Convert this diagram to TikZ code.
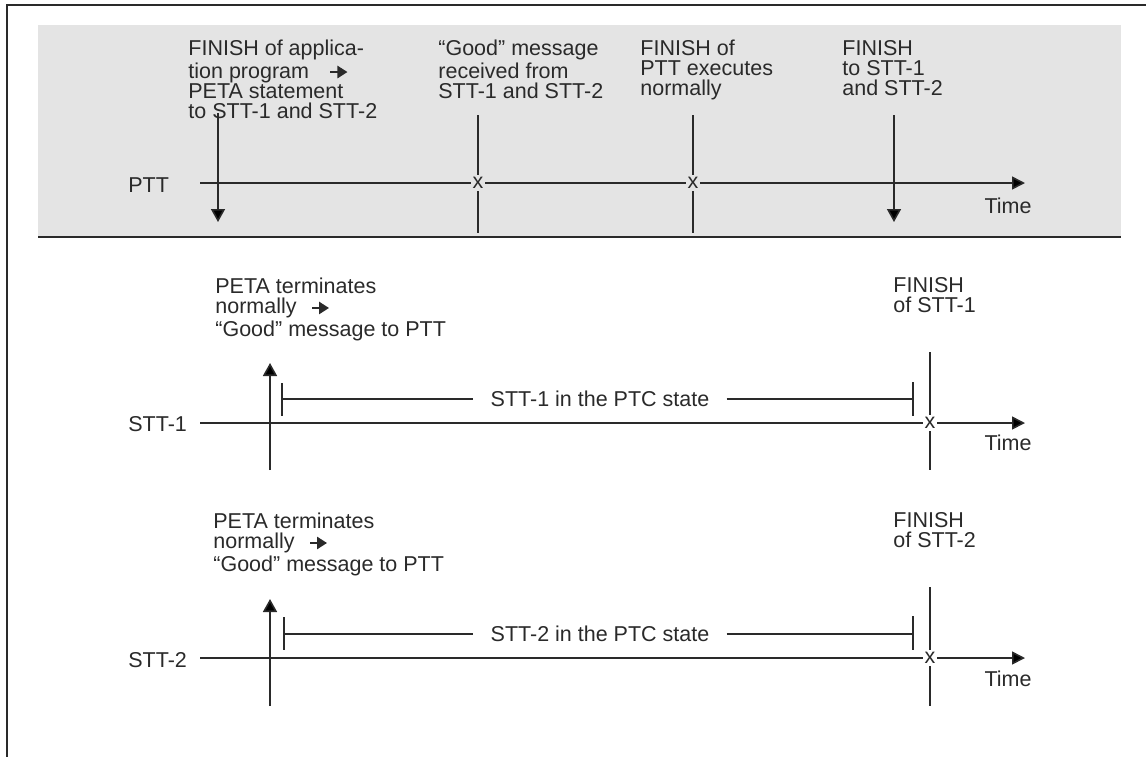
\documentclass[tikz,border=0pt]{standalone}
\usepackage{fontspec}
\setmainfont{Liberation Sans}
\usetikzlibrary{arrows.meta}
\definecolor{ink}{HTML}{2A2A2A}
\definecolor{panel}{HTML}{E4E4E4}
\newcommand\tinyarr{\tikz[baseline=-3pt]\draw[ink,line width=1.4pt,-{Triangle[length=5pt,width=6pt]}](0,0)--(8.5pt,0);}
\begin{document}
\begin{tikzpicture}[x=0.5pt,y=-0.5pt,
  txt/.style={inner sep=0pt, font=\fontsize{10.75}{10}\selectfont, text=ink},
  lbl/.style={txt, anchor=north west, align=left},
  axisline/.style={draw=ink, line width=0.8pt, -{Triangle[length=6.5pt,width=6.5pt]}},
  evline/.style={draw=ink, line width=0.8pt},
  evarrow/.style={draw=ink, line width=0.8pt, -{Triangle[length=6.5pt,width=7pt]}},
  xmark/.style={txt, inner sep=1pt, fill=#1},
  state/.style={txt, inner xsep=8.5pt}
]
\useasboundingbox (0,0) rectangle (1146,757);
% frame
\draw[ink, line width=1.2pt] (1146,5) -- (7,5) -- (7,757);
% panel
\fill[panel] (38,25) rectangle (1121,237);
\draw[ink, line width=1pt] (38,237) -- (1121,237);

% ---------- PTT ----------
\node[lbl] (l1) at (188,40) {FINISH of applica-\\tion program\hspace{10pt}\tinyarr\\PETA statement\\to STT-1 and STT-2};
\node[lbl] (l2) at (438,40) {“Good” message\\received from\\STT-1 and STT-2};
\node[lbl] (l3) at (640,40) {FINISH of\\PTT executes\\normally};
\node[lbl] (l4) at (842,40) {FINISH\\to STT-1\\and STT-2};
\node[txt, anchor=west] (ptt) at (128,185) {PTT};
\coordinate (pa) at (200,183);
\coordinate (pb) at (1025,183);
\node[txt] (pt) at (1008,206) {Time};
\coordinate (a1t) at (218,113); \coordinate (a1b) at (218,222);
\coordinate (v2t) at (478,115); \coordinate (v2b) at (478,233);
\coordinate (v3t) at (693,115); \coordinate (v3b) at (693,233);
\coordinate (a4t) at (894,115); \coordinate (a4b) at (894,222);
\draw[evline] (v2t) -- (v2b);
\draw[evline] (v3t) -- (v3b);
\draw[axisline] (pa) -- (pb);
\draw[evarrow] (a1t) -- (a1b);
\draw[evarrow] (a4t) -- (a4b);
\node[xmark=panel] (x2) at (478,183) {x};
\node[xmark=panel] (x3) at (693,183) {x};

% ---------- STT-1 ----------
\node[lbl] (s1l) at (215,278) {PETA terminates\\normally\hspace{7pt}\tinyarr\\“Good” message to PTT};
\node[lbl] (s1f) at (893,277) {FINISH\\of STT-1};
\node[txt, anchor=west] (s1n) at (128,424) {STT-1};
\coordinate (s1a) at (200,423);
\coordinate (s1b) at (1025,423);
\node[txt] (s1t) at (1008,443) {Time};
\coordinate (u1b) at (270,470); \coordinate (u1t) at (270,363);
\coordinate (f1t) at (930,352); \coordinate (f1b) at (930,470);
\draw[evline] (f1t) -- (f1b);
\draw[axisline] (s1a) -- (s1b);
\draw[evarrow] (u1b) -- (u1t);
\node[xmark=white] (x1) at (930,423) {x};
\node[state] (st1) at (600,399) {STT-1 in the PTC state};
\coordinate (b1l) at (282,399); \coordinate (b1r) at (913,399);
\draw[evline] (282,383) -- (282,416);
\draw[evline] (913,382) -- (913,416);
\draw[evline] (b1l) -- (st1.west);
\draw[evline] (st1.east) -- (b1r);

% ---------- STT-2 ----------
\node[lbl] (s2l) at (213,513) {PETA terminates\\normally\hspace{7pt}\tinyarr\\“Good” message to PTT};
\node[lbl] (s2f) at (893,512) {FINISH\\of STT-2};
\node[txt, anchor=west] (s2n) at (128,660) {STT-2};
\coordinate (s2a) at (200,658);
\coordinate (s2b) at (1025,658);
\node[txt] (s2t) at (1008,679) {Time};
\coordinate (u2b) at (270,706); \coordinate (u2t) at (270,599);
\coordinate (f2t) at (930,587); \coordinate (f2b) at (930,706);
\draw[evline] (f2t) -- (f2b);
\draw[axisline] (s2a) -- (s2b);
\draw[evarrow] (u2b) -- (u2t);
\node[xmark=white] (x4) at (930,658) {x};
\node[state] (st2) at (600,634) {STT-2 in the PTC state};
\coordinate (b2l) at (284,634); \coordinate (b2r) at (913,634);
\draw[evline] (284,617) -- (284,650);
\draw[evline] (913,616) -- (913,650);
\draw[evline] (b2l) -- (st2.west);
\draw[evline] (st2.east) -- (b2r);
\end{tikzpicture}
\end{document}
